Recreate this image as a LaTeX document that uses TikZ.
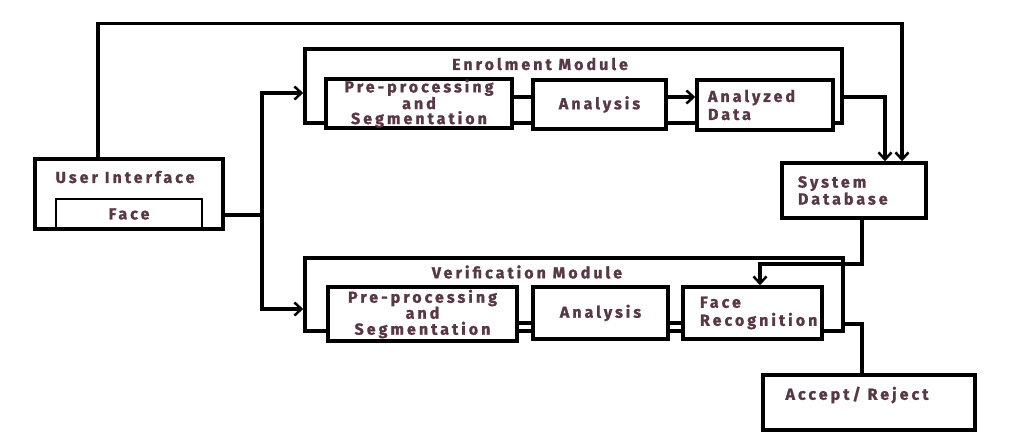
\documentclass[tikz,border=0pt]{standalone}
\usepackage{fontspec}
\newfontfamily\lblfam[LetterSpace=19, BoldFeatures={FakeBold=1.2}]{Fira Sans}
\usetikzlibrary{arrows.meta}
\definecolor{lblc}{RGB}{88,56,70}
\begin{document}
\begin{tikzpicture}[x=1pt,y=-1pt,
  lbl/.style={font=\lblfam\bfseries\fontsize{16}{16}\selectfont, text=lblc, inner sep=0pt},
  box/.style={draw, line width=3.5pt, fill=white, inner sep=0pt, lbl},
  modbox/.style={draw, line width=3.5pt, inner sep=0pt},
  conn/.style={line width=3.5pt},
  arr/.style={conn, -{Straight Barb[length=7pt,width=13pt,line width=2.5pt]}}]
\useasboundingbox (0,0) rectangle (1033,432);
\fill[white] (0,0) rectangle (1033,432);

% helper heights
\coordinate (ey) at (0,97);
\coordinate (vy) at (0,323);
\coordinate (vy2) at (0,324);

% user interface
\node[draw, line width=2pt, inner sep=0pt, minimum width=146pt, minimum height=30pt, lbl] (face) at (129,214) {Face};
\node[modbox, minimum width=188pt, minimum height=70pt] (ui) at (129,194) {};
\node[lbl] (uitext) at (125,177) {User Interface};

% enrolment module
\node[modbox, minimum width=537pt, minimum height=74pt] (emod) at (573.5,86) {};
\node[lbl] (elabel) at (540,64) {Enrolment Module};
\node[box, minimum width=186pt, minimum height=49pt, align=center, font=\lblfam\bfseries\fontsize{16}{15}\selectfont] (epre) at (419,103.5) {Pre-processing\\and\\Segmentation};
\node[box, minimum width=133pt, minimum height=49pt] (eana) at (599.5,104.5) {Analysis};
\node[box, text width=114pt, inner xsep=11pt, minimum height=50pt, align=left, font=\lblfam\bfseries\fontsize{16}{18}\selectfont] (edata) at (765,105) {Analyzed\\Data};

% system database
\node[box, text width=112pt, inner xsep=16pt, minimum height=55pt, align=left, font=\lblfam\bfseries\fontsize{16}{17}\selectfont] (sysdb) at (854,190.5) {System\\Database};

% verification module
\node[modbox, minimum width=538pt, minimum height=73pt] (vmod) at (574,294.5) {};
\node[lbl] (vlabel) at (527,272) {Verification Module};
\node[box, minimum width=189pt, minimum height=54pt, align=center, font=\lblfam\bfseries\fontsize{16}{16}\selectfont] (vpre) at (422.5,314) {Pre-processing\\and\\Segmentation};
\node[box, minimum width=135pt, minimum height=52pt] (vana) at (600.5,313) {Analysis};
\node[box, text width=105pt, inner xsep=17pt, minimum height=52pt, align=left, font=\lblfam\bfseries\fontsize{16}{18}\selectfont] (vface) at (752.5,313) {Face\\Recognition};

% accept / reject
\node[modbox, minimum width=212pt, minimum height=55pt] (accept) at (869,402.5) {};
\node[lbl] (acctext) at (857,395) {Accept/ Reject};

% connectors
\draw[arr] ([xshift=-31pt]ui.north) -- ++(0,-134) -| ([xshift=48pt]sysdb.north);
\coordinate (split) at (262,215);
\draw[conn] ([yshift=-21pt]ui.east) -- (split);
\draw[arr] (split) |- ([yshift=-7pt]emod.west);
\draw[arr] (split) |- ([yshift=-14.5pt]vmod.west);

\draw[conn] (epre.east |- ey) -- (eana.west |- ey);
\draw[arr] (eana.east |- ey) -- (edata.west |- ey);
\draw[arr] (emod.east |- ey) -| ([xshift=31pt]sysdb.north);

\draw[conn] (vpre.east |- vy) -- (vana.west |- vy);
\draw[conn] (vana.east |- vy) -- (vface.west |- vy);
\draw[arr] ([xshift=8pt]sysdb.south) -- ++(0,44) -| ([xshift=7.5pt]vface.north);
\draw[conn] (vmod.east |- vy2) -| ([xshift=-7pt]accept.north);
\end{tikzpicture}
\end{document}
